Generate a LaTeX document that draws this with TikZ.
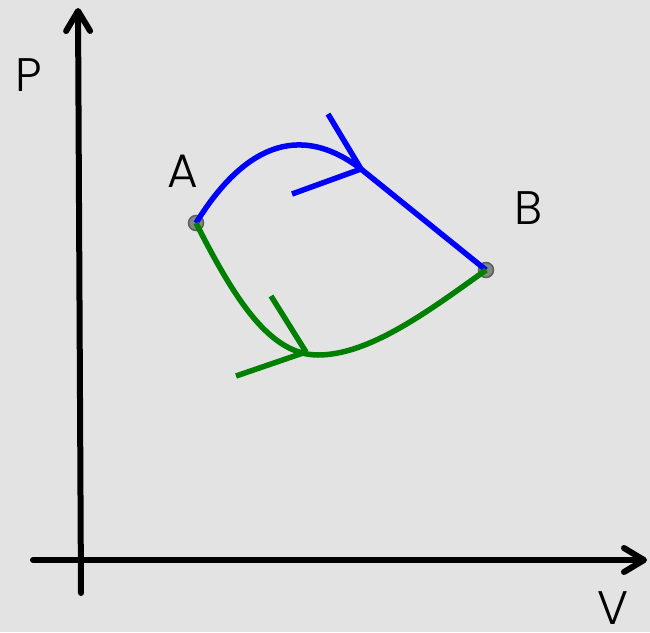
\documentclass[tikz,border=0pt]{standalone}
\usepackage{fontspec}
\setmainfont{Poppins}[UprightFont=* Light]
\usetikzlibrary{arrows.meta}
\definecolor{bg}{RGB}{227,227,227}
\definecolor{ptfill}{RGB}{128,138,128}
\definecolor{ptdraw}{RGB}{88,96,88}
\definecolor{cblue}{RGB}{0,0,255}
\definecolor{cgreen}{RGB}{0,128,0}
\begin{document}
\begin{tikzpicture}[x=1pt,y=-1pt,
  axis/.style={line width=6pt,line cap=round,-{Straight Barb[length=20pt,width=24pt,round]}},
  pt/.style={circle,minimum size=15pt,inner sep=0pt,fill=ptfill,draw=ptdraw,line width=1.5pt},
  lbl/.style={inner sep=0pt,font=\fontsize{47}{50}\selectfont},
  pathline/.style={line width=5.5pt},
  headline/.style={line width=5.5pt}]
\fill[bg] (0,0) rectangle (650,632);
\useasboundingbox (0,0) rectangle (650,632);
% axes
\coordinate (yb) at (81,593);
\coordinate (yt) at (78,8);
\coordinate (xl) at (33,560);
\coordinate (xr) at (647,560);
\draw[axis] (yb) -- (yt);
\draw[axis] (xl) -- (xr);
% labels
\node[lbl] (lP) at (29,75) {P};
\node[lbl] (lV) at (613,608) {V};
\node[lbl] (lA) at (183,171) {A};
\node[lbl] (lB) at (529,208) {B};
% points
\node[pt] (A) at (196,223) {};
\node[pt] (B) at (486,270) {};
% blue path
\coordinate (bh) at (361,169);
\draw[pathline,cblue] (A.center) .. controls (235,160) and (290,115) .. (bh) -- (B.center);
\coordinate (bh1) at (328,114);
\coordinate (bh2) at (292,194);
\draw[headline,cblue] (bh1) -- (bh);
\draw[headline,cblue] (bh2) -- (bh);
% green path
\coordinate (gm) at (318,355);
\draw[pathline,cgreen] (A.center) .. controls (235,300) and (270,355) .. (gm) .. controls (370,355) and (430,310) .. (B.center);
\coordinate (gh) at (306,352);
\coordinate (gh1) at (271,296);
\coordinate (gh2) at (236,376);
\draw[headline,cgreen] (gh1) -- (gh);
\draw[headline,cgreen] (gh2) -- (gh);
\end{tikzpicture}
\end{document}
